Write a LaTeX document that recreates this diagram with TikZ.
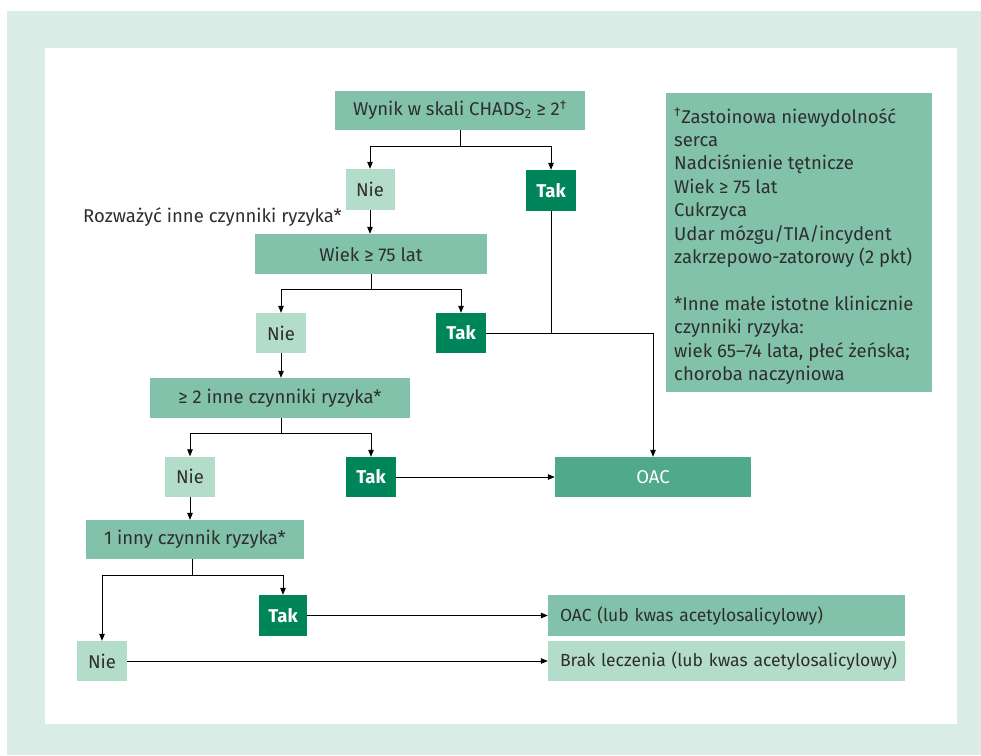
\documentclass[tikz,border=0pt]{standalone}
\usepackage{fontspec}
\setmainfont{Fira Sans}
\usetikzlibrary{arrows.meta,positioning}
\definecolor{frame}{HTML}{D9ECE5}
\definecolor{mid}{HTML}{82C2AA}
\definecolor{light}{HTML}{B3DCCB}
\definecolor{dark}{HTML}{00845A}
\definecolor{oacc}{HTML}{4FA98A}
\definecolor{txt}{HTML}{2E2E2E}
\tikzset{
  box/.style={fill=mid, inner sep=0pt, text=txt, font=\fontsize{18.5}{22}\selectfont},
  nobox/.style={fill=light, inner sep=0pt, text=txt, font=\fontsize{18.5}{22}\selectfont},
  takbox/.style={fill=dark, inner sep=0pt, text=white, font=\fontsize{18.5}{22}\selectfont\bfseries},
  oacbox/.style={fill=oacc, inner sep=0pt, text=white, font=\fontsize{18.5}{22}\selectfont},
  res/.style={inner xsep=12pt, inner ysep=0pt, text width=333pt, align=left, minimum width=357pt, text=txt, font=\fontsize{17.5}{21}\selectfont},
  arr/.style={-{Triangle[length=7pt,width=5.5pt]}},
  ln/.style={draw=black, line width=0.8pt}
}
\begin{document}
\begin{tikzpicture}[x=1pt,y=-1pt]
\useasboundingbox (0,0) rectangle (981,755);
\fill[frame] (7,11) rectangle (981,755);
\fill[white] (45,48) rectangle (957,724);

\node[box, minimum width=250pt, minimum height=39pt] (b1) at (460,110.5) {Wynik w skali CHADS\textsubscript{2} ≥ 2\textsuperscript{†}};
\node[nobox, minimum width=49pt, minimum height=41pt] (nie1) at (370,189.5) {Nie};
\node[takbox, minimum width=50pt, minimum height=41pt] (tak1) at (551,190.5) {Tak};
\node[anchor=east, inner sep=0pt, text=txt, font=\fontsize{18.5}{22}\selectfont] (rozw) at (342,217) {Rozważyć inne czynniki ryzyka*};
\node[box, minimum width=232pt, minimum height=40pt] (wiek) at (371,254) {Wiek ≥ 75 lat};
\node[nobox, minimum width=50pt, minimum height=40pt] (nie2) at (281,333) {Nie};
\node[takbox, minimum width=50pt, minimum height=40pt] (tak2) at (461,333) {Tak};
\node[box, minimum width=260pt, minimum height=40pt] (ge2) at (280,398) {≥ 2 inne czynniki ryzyka*};
\node[nobox, minimum width=50pt, minimum height=40pt] (nie3) at (190,476.5) {Nie};
\node[takbox, minimum width=50pt, minimum height=40pt] (tak3) at (371,477) {Tak};
\node[oacbox, minimum width=196pt, minimum height=40pt] (oac) at (653,477) {OAC};
\node[box, minimum width=218pt, minimum height=39pt] (one) at (195,539.5) {1 inny czynnik ryzyka*};
\node[takbox, minimum width=48pt, minimum height=41pt] (tak4) at (283,615.5) {Tak};
\node[nobox, minimum width=50pt, minimum height=40pt] (nie4) at (102,661) {Nie};
\node[res, fill=mid, minimum height=41pt] (oac2) at (726.5,615.5) {\mbox{OAC (lub kwas acetylosalicylowy)}};
\node[res, fill=light, minimum height=40pt] (brak) at (726.5,661) {\mbox{Brak leczenia (lub kwas acetylosalicylowy)}};

\node[fill=mid, anchor=north west, minimum width=266pt, minimum height=299pt, inner sep=0pt] (leg) at (666,93) {};
\node[anchor=north west, inner sep=0pt, align=left, text=txt, font=\fontsize{18.5}{23.4}\selectfont] (legt) at (674,108)
{\textsuperscript{†}Zastoinowa niewydolność\\serca\\Nadciśnienie tętnicze\\Wiek ≥ 75 lat\\Cukrzyca\\Udar mózgu/TIA/incydent\\zakrzepowo-zatorowy (2 pkt)\\[23.4pt]*Inne małe istotne klinicznie\\czynniki ryzyka:\\wiek 65–74 lata, płeć żeńska;\\choroba naczyniowa};

\coordinate (j1) at (460,146);
\coordinate (j2) at (371,289);
\coordinate (j3) at (281,433);
\coordinate (j4) at (192,575);

\draw[ln] (b1.south) -- (j1);
\draw[ln,arr] (j1) -| (nie1.north);
\draw[ln,arr] (j1) -| (tak1.north);
\draw[ln,arr] (nie1.south) -- (nie1.south |- wiek.north);
\draw[ln] (wiek.south) -- (j2);
\draw[ln,arr] (j2) -| (nie2.north);
\draw[ln,arr] (j2) -| (tak2.north);
\draw[ln] (tak1.south) -- (tak1.south |- tak2.east);
\draw[ln,arr] (tak2.east) -| (oac.north);
\draw[ln,arr] (nie2.south) -- (nie2.south |- ge2.north);
\draw[ln] (ge2.south -| j3) -- (j3);
\draw[ln,arr] (j3) -| (nie3.north);
\draw[ln,arr] (j3) -| (tak3.north);
\draw[ln,arr] (tak3.east) -- (oac.west);
\draw[ln,arr] (nie3.south) -- (nie3.south |- one.north);
\draw[ln] (one.south -| j4) -- (j4);
\draw[ln,arr] (j4) -| (tak4.north);
\draw[ln,arr] (j4) -| (nie4.north);
\draw[ln,arr] (tak4.east) -- (tak4.east -| oac2.west);
\draw[ln,arr] (nie4.east) -- (nie4.east -| brak.west);
\end{tikzpicture}
\end{document}
